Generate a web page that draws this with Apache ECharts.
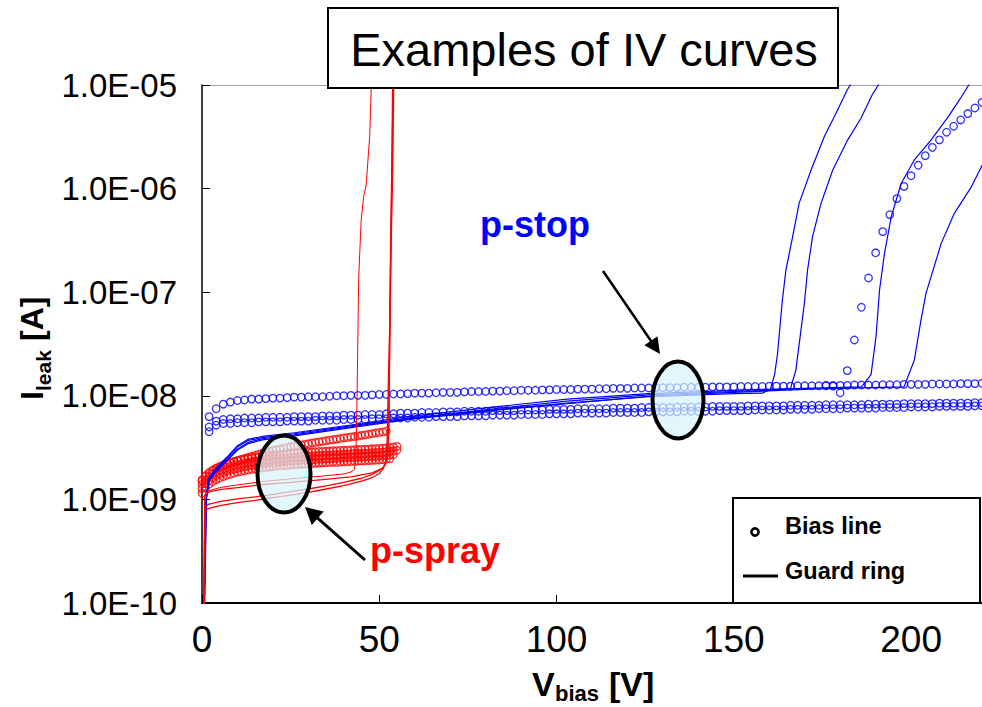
<!DOCTYPE html>
<html>
<head>
<meta charset="utf-8">
<title>Examples of IV curves</title>
<script src="https://cdn.jsdelivr.net/npm/echarts@6.0.0/dist/echarts.min.js"></script>
<style>
  html, body { margin: 0; padding: 0; background: #fff; }
  #chart { width: 982px; height: 707px; }
</style>
</head>
<body>
<div id="chart"></div>
<script>
// ---- Measured IV data (voltage in V, leakage current in nA) ----

// bias-line sweep voltages, p-stop sensors (2 V steps)
const vStop = [2,4,6,8,10,12,14,16,18,20,22,24,26,28,30,32,34,36,38,40,
  42,44,46,48,50,52,54,56,58,60,62,64,66,68,70,72,74,76,78,80,
  82,84,86,88,90,92,94,96,98,100,102,104,106,108,110,112,114,116,118,120,
  122,124,126,128,130,132,134,136,138,140,142,144,146,148,150,152,154,156,158,160,
  162,164,166,168,170,172,174,176,178,180,182,184,186,188,190,192,194,196,198,200,
  202,204,206,208,210,212,214,216,218,220];

// p-stop bias line currents [nA]
const stopBiasHigh = [6.3,7.5,8.3,8.7,9.0,9.1,9.3,9.3,9.4,9.5,
  9.5,9.6,9.7,9.7,9.8,9.8,9.8,9.9,10.0,10.0,
  10.1,10.1,10.1,10.2,10.3,10.3,10.4,10.4,10.5,10.6,
  10.6,10.6,10.7,10.8,10.8,10.8,10.9,11.0,11.0,11.0,
  11.1,11.1,11.2,11.2,11.3,11.3,11.3,11.4,11.4,11.5,
  11.5,11.5,11.6,11.6,11.6,11.7,11.7,11.8,11.8,11.8,
  11.9,11.9,11.9,12.0,12.0,12.0,12.0,12.1,12.1,12.1,
  12.1,12.2,12.2,12.2,12.2,12.3,12.3,12.3,12.3,12.4,
  12.4,12.4,12.4,12.5,12.5,12.5,12.5,12.6,12.6,12.6,
  12.6,12.7,12.7,12.7,12.7,12.8,12.8,12.8,12.9,12.9,
  12.9,12.9,13.0,13.0,13.0,13.0,13.1,13.1,13.1,13.2];

const stopBiasMid = [5.0,5.7,5.9,6.0,6.0,6.1,6.1,6.1,6.2,6.2,
  6.2,6.2,6.3,6.3,6.3,6.3,6.4,6.4,6.4,6.5,
  6.5,6.5,6.6,6.6,6.6,6.7,6.7,6.8,6.8,6.8,
  6.9,6.9,6.9,7.0,7.0,7.0,7.1,7.1,7.1,7.1,
  7.2,7.2,7.2,7.2,7.3,7.3,7.3,7.3,7.4,7.4,
  7.4,7.4,7.5,7.5,7.5,7.5,7.5,7.6,7.6,7.6,
  7.6,7.7,7.7,7.7,7.7,7.7,7.8,7.8,7.8,7.8,
  7.8,7.9,7.9,7.9,7.9,7.9,8.0,8.0,8.0,8.0,
  8.0,8.0,8.1,8.1,8.1,8.1,8.1,8.2,8.2,8.2,
  8.2,8.2,8.2,8.3,8.3,8.3,8.3,8.3,8.4,8.4,
  8.4,8.4,8.4,8.5,8.5,8.5,8.5,8.5,8.6,8.6];

const stopBiasLow = [4.5,5.2,5.4,5.4,5.5,5.5,5.5,5.6,5.6,5.6,
  5.6,5.7,5.7,5.7,5.7,5.8,5.8,5.8,5.8,5.9,
  5.9,5.9,5.9,6.0,6.0,6.0,6.1,6.1,6.1,6.2,
  6.2,6.2,6.3,6.3,6.3,6.3,6.4,6.4,6.4,6.4,
  6.5,6.5,6.5,6.5,6.6,6.6,6.6,6.6,6.7,6.7,
  6.7,6.7,6.8,6.8,6.8,6.8,6.8,6.9,6.9,6.9,
  6.9,6.9,7.0,7.0,7.0,7.0,7.0,7.1,7.1,7.1,
  7.1,7.1,7.2,7.2,7.2,7.2,7.2,7.3,7.3,7.3,
  7.3,7.3,7.4,7.4,7.4,7.4,7.5,7.5,7.5,7.5,
  7.6,7.6,7.6,7.6,7.6,7.7,7.7,7.7,7.7,7.8,
  7.8,7.8,7.8,7.9,7.9,7.9,7.9,7.9,8.0,8.0];

// p-stop bias line that breaks down near 180 V
const vStopBreak = [176,178,180,182,184,186,188,190,192,194,196,198,200,202,204,206,208,210,212,214,216,218,220];
const stopBiasBreak = [12.5,12.4,10.7,17.5,34.6,71.5,137,240,384,560,800,1050,1330,1680,2080,2500,2950,3500,4000,4600,5300,6000,6800];

// p-stop guard ring currents: [V, nA]
const stopGuard1 = [[0.4,0.05],[1.0,0.9],[1.8,1.6],[3.7,1.95],[7,2.5],[10,3.2],[13,3.7],[17,3.95],[26,4.3],[45,5.3],
  [58,6.1],[84,7.4],[103,8.5],[126,9.8],[140,10.2],[150,10.5],[158,10.6],[160.3,11.5],[161.5,16],[162.3,25],
  [163.7,84],[164.7,164],[166.6,344],[168.4,720],[171.8,1510],[175.5,3170],[178.8,5300],[182,9000],[184.3,12000]];
const stopGuard2 = [[0.5,0.05],[1.1,0.95],[1.9,1.55],[4,1.9],[7,2.4],[10,3.05],[13,3.55],[17,3.85],[26,4.2],[45,5.2],
  [58,6.0],[84,7.6],[103,8.9],[126,10.2],[150,11.0],[160,11.3],[166,11.8],[167.5,17.7],[169.9,78],[170.8,164],
  [172.2,344],[174.6,720],[177.9,1510],[182.1,2940],[185.9,4800],[189,8000],[191.5,11000]];
const stopGuard3 = [[0.5,0.05],[1.2,1.0],[2,1.6],[4,2.0],[7,2.55],[10,3.3],[13,3.8],[17,4.05],[26,4.4],[45,5.4],
  [58,6.3],[84,7.9],[103,9.3],[126,10.5],[150,11.3],[170,11.8],[186,12.2],[188.7,16],[190.1,37],[191.1,105],
  [192.5,237],[194.4,535],[197.2,1120],[200.9,1890],[205.6,2940],[210.4,4900],[214,7500],[217,11000]];
const stopGuard4 = [[0.6,0.05],[1.3,1.05],[2.1,1.55],[4,1.85],[7,2.35],[10,3.0],[13,3.45],[17,3.75],[26,4.1],[45,5.1],
  [58,5.9],[84,7.3],[103,8.4],[126,9.9],[150,10.8],[175,11.7],[198,12.2],[200.9,22],[202.8,54],[204.2,97.5],
  [208.5,296],[212.2,577],[217,1040],[220.3,1750]];

// bias-line sweep voltages, p-spray sensors (1 V steps)
const vSpray = [0,1,2,3,4,5,6,7,8,9,10,11,12,13,14,15,16,17,18,19,
  20,21,22,23,24,25,26,27,28,29,30,31,32,33,34,35,36,37,38,39,
  40,41,42,43,44,45,46,47,48,49,50,51,52,53,54,55];

// p-spray bias line currents [nA]
const sprayBias1 = [1.55,1.7,1.82,1.92,2.01,2.08,2.15,2.21,2.27,2.32,2.37,2.41,2.45,2.49,2.52,2.55,2.58,2.61,2.63,2.66,
  2.68,2.7,2.72,2.74,2.76,2.78,2.8,2.81,2.83,2.84,2.86,2.87,2.88,2.9,2.91,2.92,2.93,2.95,2.96,2.97,
  2.98,2.99,3.0,3.01,3.03,3.04,3.05,3.06,3.08,3.09,3.11,3.12,3.14,3.17,3.2,3.25];
const sprayBias2 = [1.4,1.55,1.67,1.76,1.84,1.91,1.97,2.03,2.08,2.13,2.17,2.21,2.25,2.28,2.31,2.34,2.37,2.39,2.42,2.44,
  2.46,2.48,2.5,2.52,2.53,2.55,2.57,2.58,2.59,2.61,2.62,2.63,2.65,2.66,2.67,2.68,2.69,2.7,2.71,2.72,
  2.74,2.75,2.76,2.77,2.78,2.79,2.8,2.81,2.83,2.84,2.85,2.87,2.89,2.91,2.94,2.98];
const sprayBias3 = [1.27,1.42,1.53,1.62,1.69,1.75,1.81,1.86,1.91,1.95,1.99,2.03,2.06,2.09,2.12,2.15,2.17,2.2,2.22,2.24,
  2.26,2.28,2.29,2.31,2.32,2.34,2.35,2.37,2.38,2.39,2.4,2.41,2.43,2.44,2.45,2.46,2.47,2.48,2.49,2.5,
  2.51,2.52,2.53,2.54,2.55,2.56,2.57,2.58,2.59,2.6,2.62,2.63,2.65,2.67,2.7];
const sprayBias4 = [1.15,1.3,1.4,1.48,1.55,1.61,1.66,1.71,1.75,1.79,1.83,1.86,1.89,1.92,1.95,1.97,2.0,2.02,2.04,2.06,
  2.07,2.09,2.11,2.12,2.13,2.15,2.16,2.17,2.18,2.19,2.21,2.22,2.23,2.24,2.25,2.26,2.27,2.28,2.28,2.29,
  2.3,2.31,2.32,2.33,2.34,2.35,2.36,2.37,2.38,2.39,2.4,2.42,2.44,2.47];
const sprayBias5 = [1.5,1.66,1.78,1.88,1.97,2.05,2.12,2.19,2.25,2.31,2.37,2.43,2.49,2.55,2.61,2.67,2.73,2.79,2.85,2.91,
  2.97,3.02,3.07,3.12,3.17,3.22,3.27,3.31,3.36,3.4,3.45,3.5,3.54,3.59,3.63,3.68,3.73,3.77,3.82,3.87,
  3.92,3.96,4.01,4.05,4.1,4.15,4.2,4.26,4.31,4.37,4.42,4.48,4.55];

// p-spray guard ring currents: [V, nA]
const sprayGuardA = [[0.4,0.05],[0.7,1.05],[1.5,1.2],[5,1.3],[10,1.38],[18,1.5],[25,1.58],[34,1.68],[40,1.76],[42,1.84],
  [43,1.95],[43.4,2.5],[43.7,8],[44.2,140],[44.9,500],[45.6,840],[46.3,1080],[47.3,3200],[47.8,11000]];
const sprayGuardB1 = [[0.5,0.05],[0.8,0.78],[2,0.82],[5,0.87],[10,0.93],[15,0.98],[20,1.04],[25,1.1],[30,1.17],[35,1.26],
  [40,1.36],[45,1.5],[48,1.62],[50,1.78],[51,1.95],[51.8,2.3],[52.2,3.5],[52.6,15],[52.9,40],[53.3,340],[53.6,1500],[53.9,12000]];
const sprayGuardB2 = [[0.6,0.05],[0.9,0.85],[2,0.9],[5,0.95],[10,1.01],[15,1.06],[20,1.12],[25,1.19],[30,1.26],[35,1.35],
  [40,1.46],[45,1.6],[48,1.74],[50,1.9],[51.5,2.1],[52.3,2.6],[52.7,5],[53.0,40],[53.4,350],[53.8,1600],[54.1,12000]];
const sprayGuardC = [[0.6,0.05],[0.8,1.1],[2,1.18],[5,1.24],[10,1.3],[18,1.4],[25,1.46],[34,1.55],[42,1.65],[48,1.8],
  [51,2.0],[52.2,2.4],[52.6,4],[52.9,30],[53.2,300],[53.5,1400],[53.8,12000]];

// axis ticks
const xTicks = [0, 50, 100, 150, 200];
const yDecades = [-10, -9, -8, -7, -6, -5];

// ---- build series ----
const NANO = 1e-9;
const BLUE = '#0000ff';
const RED = '#ff0000';
const FONT = '"Liberation Sans", Arial, Helvetica, sans-serif';

function sweep(volts, currents) {
  return currents.map((c, k) => [volts[k], c * NANO]);
}
function curve(points) {
  return points.map(p => [p[0], p[1] * NANO]);
}
function circles(data, color) {
  return {
    type: 'scatter', data: data, symbol: 'circle', symbolSize: 7.5,
    itemStyle: { color: 'rgba(0,0,0,0)', borderColor: color, borderWidth: 1.3 },
    silent: true, z: 2
  };
}
function trace(data, color, width) {
  return {
    type: 'line', data: data, showSymbol: false, symbol: 'none', clip: true,
    lineStyle: { color: color, width: width || 1.2 }, silent: true, z: 3
  };
}

const series = [
  circles(sweep(vStop, stopBiasHigh), BLUE),
  circles(sweep(vStop, stopBiasMid), BLUE),
  circles(sweep(vStop, stopBiasLow), BLUE),
  circles(sweep(vStopBreak, stopBiasBreak), BLUE),
  trace(curve(stopGuard1), BLUE),
  trace(curve(stopGuard2), BLUE),
  trace(curve(stopGuard3), BLUE),
  trace(curve(stopGuard4), BLUE),
  circles(sweep(vSpray, sprayBias1), RED),
  circles(sweep(vSpray, sprayBias2), RED),
  circles(sweep(vSpray, sprayBias3), RED),
  circles(sweep(vSpray, sprayBias4), RED),
  circles(sweep(vSpray, sprayBias5), RED),
  trace(curve(sprayGuardA), RED, 1),
  trace(curve(sprayGuardB1), RED, 1.3),
  trace(curve(sprayGuardB2), RED, 1.3),
  trace(curve(sprayGuardC), RED, 1.3)
];

function sciLabel(v) {
  const e = Math.round(Math.log10(v));
  const a = Math.abs(e);
  return '1.0E' + (e < 0 ? '-' : '+') + (a < 10 ? '0' + a : '' + a);
}

// ---- annotation helpers ----
function arrow(x1, y1, x2, y2, headLen, headHalf, width) {
  const dx = x2 - x1, dy = y2 - y1;
  const L = Math.sqrt(dx * dx + dy * dy);
  const ux = dx / L, uy = dy / L;
  const bx = x2 - ux * headLen, by = y2 - uy * headLen;
  return [
    { type: 'line', z: 30, silent: true,
      shape: { x1: x1, y1: y1, x2: bx + ux * 2, y2: by + uy * 2 },
      style: { stroke: '#000', lineWidth: width } },
    { type: 'polygon', z: 30, silent: true,
      shape: { points: [[x2, y2], [bx - uy * headHalf, by + ux * headHalf], [bx + uy * headHalf, by - ux * headHalf]] },
      style: { fill: '#000' } }
  ];
}

const graphics = [
  // title box
  { type: 'rect', z: 40, silent: true, shape: { x: 328, y: 8, width: 510, height: 80 },
    style: { fill: '#fff', stroke: '#000', lineWidth: 2 } },
  { type: 'text', z: 41, silent: true,
    style: { text: 'Examples of IV curves', x: 584, y: 49, align: 'center', verticalAlign: 'middle',
      font: '47px ' + FONT, fill: '#000' } },

  // region markers
  { type: 'ellipse', z: 20, silent: true, shape: { cx: 678, cy: 400, rx: 25.5, ry: 38.5 },
    style: { fill: 'rgba(214,244,250,0.72)', stroke: '#000', lineWidth: 4 } },
  { type: 'ellipse', z: 20, silent: true, shape: { cx: 284, cy: 474, rx: 26.5, ry: 38.5 },
    style: { fill: 'rgba(214,244,250,0.72)', stroke: '#000', lineWidth: 4 } },
  ...arrow(603, 271, 660, 354, 16, 8, 2.5),
  ...arrow(365, 560, 305, 507, 17, 9, 3),
  { type: 'text', z: 30, silent: true,
    style: { text: 'p-stop', x: 480, y: 224, align: 'left', verticalAlign: 'middle',
      font: 'bold 36px ' + FONT, fill: BLUE } },
  { type: 'text', z: 30, silent: true,
    style: { text: 'p-spray', x: 370, y: 550, align: 'left', verticalAlign: 'middle',
      font: 'bold 36px ' + FONT, fill: RED } },

  // legend box
  { type: 'rect', z: 40, silent: true, shape: { x: 733, y: 498, width: 247, height: 105 },
    style: { fill: '#fff', stroke: '#000', lineWidth: 2 } },
  { type: 'circle', z: 41, silent: true, shape: { cx: 755, cy: 532, r: 3.6 },
    style: { fill: '#fff', stroke: '#000', lineWidth: 2.6 } },
  { type: 'text', z: 41, silent: true,
    style: { text: 'Bias line', x: 785, y: 526, align: 'left', verticalAlign: 'middle',
      font: 'bold 23.5px ' + FONT, fill: '#000' } },
  { type: 'line', z: 41, silent: true, shape: { x1: 743, y1: 576, x2: 778, y2: 576 },
    style: { stroke: '#000', lineWidth: 3 } },
  { type: 'text', z: 41, silent: true,
    style: { text: 'Guard ring', x: 785, y: 571, align: 'left', verticalAlign: 'middle',
      font: 'bold 23.5px ' + FONT, fill: '#000' } },

  // x axis title: V_bias [V]
  { type: 'text', z: 30, silent: true,
    style: { text: 'V', x: 532, y: 684, align: 'left', verticalAlign: 'middle', font: 'bold 34px ' + FONT, fill: '#000' } },
  { type: 'text', z: 30, silent: true,
    style: { text: 'bias', x: 555, y: 693, align: 'left', verticalAlign: 'middle', font: 'bold 22px ' + FONT, fill: '#000' } },
  { type: 'text', z: 30, silent: true,
    style: { text: '[V]', x: 609, y: 684, align: 'left', verticalAlign: 'middle', font: 'bold 34px ' + FONT, fill: '#000' } },

  // y axis title: I_leak [A], reading upward
  { type: 'group', x: 43, y: 400, rotation: Math.PI / 2, silent: true, z: 30,
    children: [
      { type: 'text', z: 30, style: { text: 'I', x: 0, y: -11, align: 'left', verticalAlign: 'middle', font: 'bold 32px ' + FONT, fill: '#000' } },
      { type: 'text', z: 30, style: { text: 'leak', x: 9, y: 0, align: 'left', verticalAlign: 'middle', font: 'bold 21px ' + FONT, fill: '#000' } },
      { type: 'text', z: 30, style: { text: '[A]', x: 59, y: -11, align: 'left', verticalAlign: 'middle', font: 'bold 32px ' + FONT, fill: '#000' } }
    ] }
];

const chart = echarts.init(document.getElementById('chart'), null, { renderer: 'svg' });
chart.setOption({
  animation: false,
  backgroundColor: '#fff',
  grid: { left: 202, right: 0, top: 85, bottom: 104, containLabel: false },
  xAxis: [
    {
      type: 'value', min: xTicks[0], max: 220, interval: xTicks[1] - xTicks[0],
      axisLine: { show: true, lineStyle: { color: '#000', width: 2 } },
      axisTick: { show: true, inside: true, length: 8, lineStyle: { color: '#000', width: 1 } },
      axisLabel: { show: true, margin: 18, fontSize: 37, fontFamily: FONT, color: '#000',
        showMaxLabel: false,
        formatter: v => (xTicks.indexOf(v) >= 0 ? String(v) : '') },
      splitLine: { show: false }
    },
    {
      type: 'value', position: 'top', min: 0, max: 220,
      axisLine: { show: true, lineStyle: { color: '#a0a0a0', width: 1 } },
      axisTick: { show: false }, axisLabel: { show: false }, splitLine: { show: false }
    }
  ],
  yAxis: {
    type: 'log', logBase: 10,
    min: Math.pow(10, yDecades[0]), max: Math.pow(10, yDecades[yDecades.length - 1]),
    splitNumber: yDecades.length - 1,
    axisLine: { show: true, lineStyle: { color: '#000', width: 1.5 } },
    axisTick: { show: true, inside: true, length: 8, lineStyle: { color: '#000', width: 1 } },
    minorTick: { show: false },
    axisLabel: { margin: 25, fontSize: 33, fontFamily: FONT, color: '#000', formatter: sciLabel },
    splitLine: { show: false }
  },
  series: series,
  graphic: graphics
});
</script>
</body>
</html>
